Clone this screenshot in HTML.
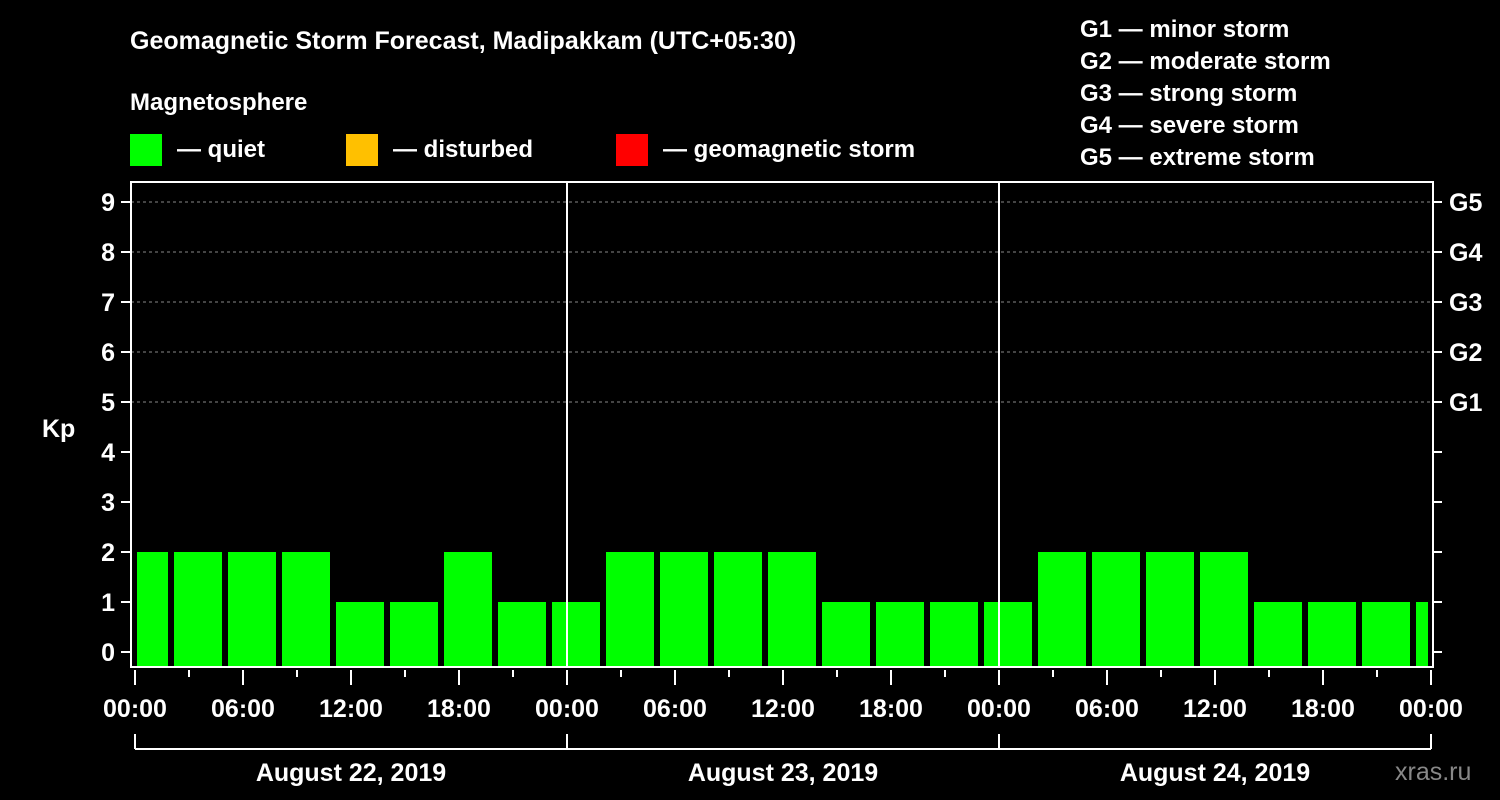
<!DOCTYPE html>
<html><head><meta charset="utf-8"><style>
body{margin:0;background:#000;}
svg{display:block;font-family:"Liberation Sans",sans-serif;font-weight:bold;}
</style></head><body>
<svg id="chart" width="1500" height="800" viewBox="0 0 1500 800">
<rect width="1500" height="800" fill="#000"/>
<text x="130" y="49" fill="#fff" font-size="25">Geomagnetic Storm Forecast, Madipakkam (UTC+05:30)</text>
<text x="130" y="110" fill="#fff" font-size="24">Magnetosphere</text>
<g>
<rect x="130" y="134" width="32" height="32" fill="#00ff00"/>
<text x="177" y="157" fill="#fff" font-size="24">— quiet</text>
<rect x="346" y="134" width="32" height="32" fill="#ffc000"/>
<text x="393" y="157" fill="#fff" font-size="24">— disturbed</text>
<rect x="616" y="134" width="32" height="32" fill="#ff0000"/>
<text x="663" y="157" fill="#fff" font-size="24">— geomagnetic storm</text>
</g>
<g fill="#fff" font-size="24">
<text x="1080" y="37">G1 — minor storm</text>
<text x="1080" y="69">G2 — moderate storm</text>
<text x="1080" y="101">G3 — strong storm</text>
<text x="1080" y="133">G4 — severe storm</text>
<text x="1080" y="165">G5 — extreme storm</text>
</g>
<text x="42" y="437" fill="#fff" font-size="25">Kp</text>
<g id="grid"></g>
<g id="bars"></g>
<g id="axes"></g>
<text x="1395" y="780" fill="#888" font-size="25" font-weight="normal">xras.ru</text>
</svg>
<script>
const kpValues = [2,2,2,2,1,1,2,1,1,2,2,2,2,1,1,1,1,2,2,2,2,1,1,1,1];
const dayLabels = ["August 22, 2019","August 23, 2019","August 24, 2019"];
const hourLabels = ["00:00","06:00","12:00","18:00"];
const gLabels = ["G1","G2","G3","G4","G5"];
const yTicks = [0,1,2,3,4,5,6,7,8,9];

const NS="http://www.w3.org/2000/svg";
const X0=135, PXH=18, Y0=652, PXU=50, PL=131, PR=1433, PT=182, PB=667;
const xh=h=>X0+h*PXH;
const yv=v=>Y0-v*PXU;
function mk(tag,attrs,parent,txt){const e=document.createElementNS(NS,tag);for(const k in attrs)e.setAttribute(k,attrs[k]);if(txt!==undefined)e.textContent=txt;document.getElementById(parent).appendChild(e);return e;}

// grid
for(let v=5;v<=9;v++){
  const l=mk('line',{x1:PL,x2:PR,y1:yv(v),y2:yv(v),stroke:'#888','stroke-dasharray':'3,3','stroke-width':1},'grid');
  
  
}
// bars: first partial 0..2h, then 3h intervals starting 2h
const endH=72;
kpValues.forEach((v,i)=>{
  let s=i===0?0:2+3*(i-1), e=Math.min(2+3*i,endH);
  let x1=xh(s)+(i===0?2:3), x2=xh(e)-3;
  const r=mk('rect',{x:x1,y:yv(v),width:x2-x1,height:PB-yv(v),fill:'#00ff00'},'bars');
  
  
});
// day separators
for(let d=1;d<3;d++){
  const l=mk('line',{x1:xh(24*d),x2:xh(24*d),y1:PT,y2:PB,stroke:'#fff','stroke-width':2},'axes');
  
  
}
// frame
const fr=mk('rect',{x:PL,y:PT,width:PR-PL,height:PB-PT,fill:'none',stroke:'#fff','stroke-width':2},'axes');


yTicks.forEach(v=>{
  mk('line',{x1:PL-10,x2:PL,y1:yv(v),y2:yv(v),stroke:'#fff','stroke-width':2},'axes');
  mk('line',{x1:PR,x2:PR+9,y1:yv(v),y2:yv(v),stroke:'#fff','stroke-width':2},'axes');
  const t=mk('text',{x:PL-16,y:yv(v)+9,fill:'#fff','font-size':25,'text-anchor':'end'},'axes',String(v));
  
  
});
gLabels.forEach((g,i)=>{
  const t=mk('text',{x:1449,y:yv(5+i)+9,fill:'#fff','font-size':25},'axes',g);
  
  
});
for(let h=0;h<=72;h+=3){
  const major=h%6===0;
  mk('line',{x1:xh(h),x2:xh(h),y1:670,y2:major?685:677,stroke:'#fff','stroke-width':2},'axes');
  if(major){
    const t=mk('text',{x:xh(h),y:717,fill:'#fff','font-size':25,'text-anchor':'middle'},'axes',hourLabels[(h%24)/6]);
    
    
  }
}
mk('line',{x1:xh(0),x2:xh(72),y1:749,y2:749,stroke:'#fff','stroke-width':2},'axes');
for(let d=0;d<=3;d++) mk('line',{x1:xh(24*d),x2:xh(24*d),y1:734,y2:749,stroke:'#fff','stroke-width':2},'axes');
dayLabels.forEach((s,d)=>{
  const t=mk('text',{x:xh(24*d+12),y:781,fill:'#fff','font-size':25,'text-anchor':'middle'},'axes',s);
  
  
});
</script>
</body></html>
